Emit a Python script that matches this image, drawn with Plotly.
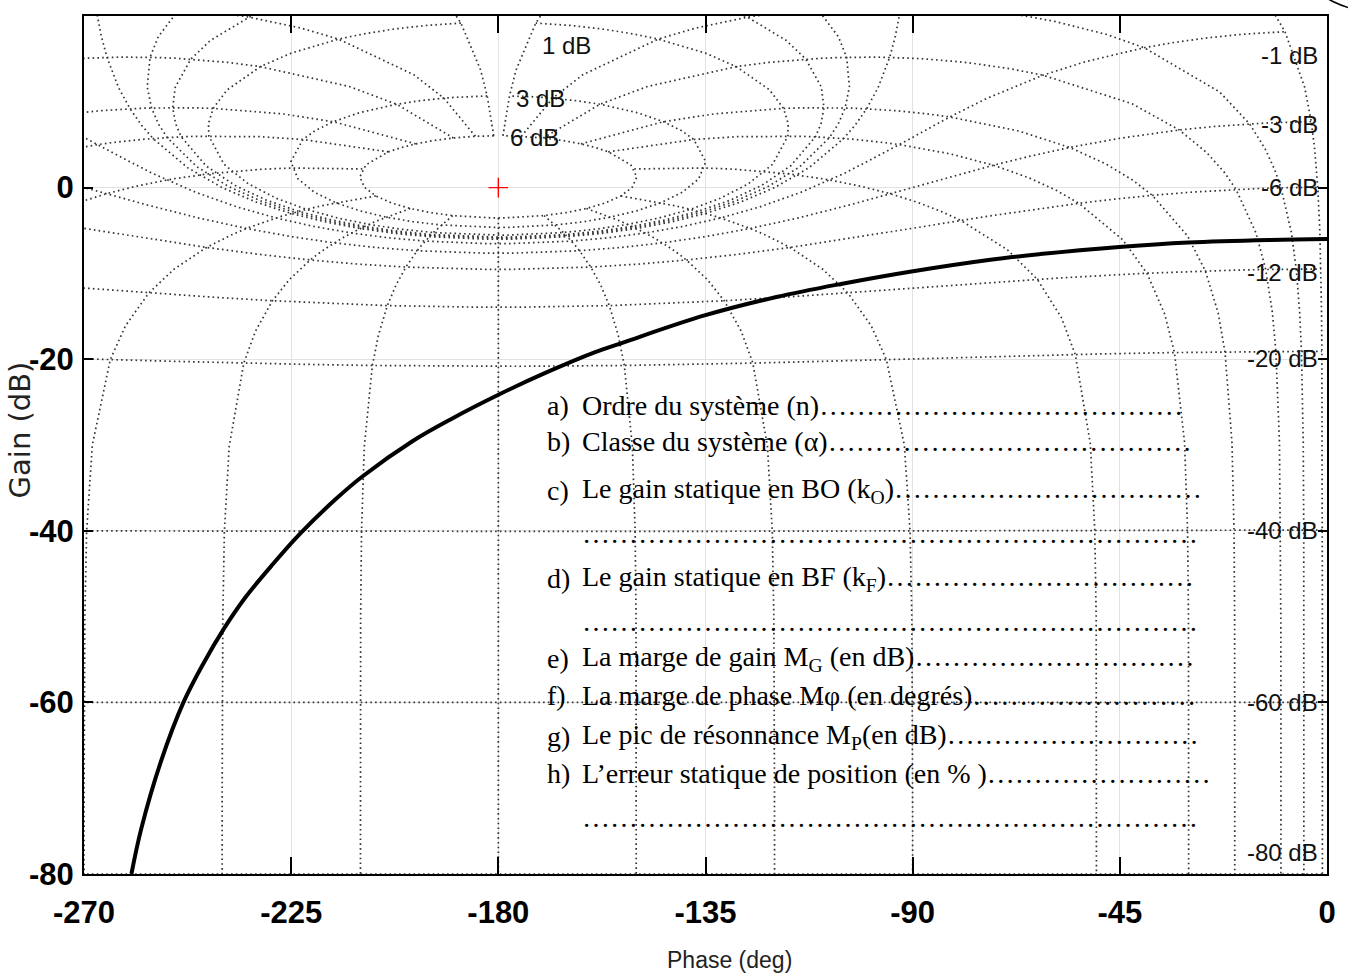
import numpy as np
import plotly.graph_objects as go

# ---------------------------------------------------------------------------
# Open-loop locus (phase in degrees, gain in dB)
# ---------------------------------------------------------------------------
phase_deg = [-259.7, -257.6, -253.3, -248.4, -244.0, -239.6, -235.0, -229.0,
             -223.0, -215.3, -209.6, -198.5, -190.0, -180.2, -169.8, -159.1,
             -152.6, -135.2, -119.6, -105.3, -90.6, -73.1, -62.3, -45.8,
             -30.1, -12.2, 0.0]
gain_db = [-80.0, -74.8, -66.9, -60.0, -55.4, -51.4, -47.8, -43.9,
           -40.3, -36.3, -33.7, -29.5, -26.9, -24.2, -21.6, -19.2,
           -18.0, -14.9, -12.75, -11.2, -9.8, -8.4, -7.75, -6.95,
           -6.4, -6.1, -6.0]

# Axis ticks
x_ticks = [-270, -225, -180, -135, -90, -45, 0]
y_ticks = [-80, -60, -40, -20, 0, 20]

# Nichols grid: closed-loop phase contours and closed-loop gain contours
iso_phase_deg = [1, 5, 10, 20, 30, 50, 90, 120, 150, 180]
iso_phase_gain_pts = [6, 3, 2, 1, .75, .5, .4, .3, .25, .2, .15, .1, .05, 0,
                      -.05, -.1, -.15, -.2, -.25, -.3, -.4, -.5, -.75, -1, -2,
                      -3, -4, -5, -6, -9, -12, -16, -20, -30, -40, -50, -60,
                      -70, -80, -90, -100, -110, -120]
iso_gain_db = [6, 3, 1, .5, .25, 0, -1, -3, -6, -12, -20, -40, -60, -80,
               -100, -120]
iso_gain_phase_pts = [1, 2, 3, 4, 5, 7.5, 10, 15, 20, 25, 30, 45, 60, 75, 90,
                      105, 120, 135, 150, 175, 180]

# Contour labels
top_labels = ["1 dB", "3 dB", "6 dB"]
top_label_phase = [-170.9, -176.7, -177.8]
top_label_gain = [16.6, 10.4, 5.8]
right_labels = ["-1 dB", "-3 dB", "-6 dB", "-12 dB", "-20 dB", "-40 dB",
                "-60 dB", "-80 dB"]
right_label_gain = [15.4, 7.3, 0.0, -9.9, -19.9, -40.0, -60.0, -77.5]

# Questions written over the chart
item_tags = ["a)", "b)", "c)", "", "d)", "", "e)", "f)", "g)", "h)", ""]
item_texts = [
    "Ordre du système (n)",
    "Classe du système (α)",
    "Le gain statique en BO (k<sub>O</sub>)",
    "",
    "Le gain statique en BF (k<sub>F</sub>)",
    "",
    "La marge de gain M<sub>G</sub> (en dB)",
    "La marge de phase Mφ (en degrés)",
    "Le pic de résonnance M<sub>P</sub>(en dB)",
    "L’erreur statique de position (en % )",
    "",
]
item_dots = [13, 13, 11, 22, 11, 22, 10, 8, 9, 8, 22]
item_rows = [405, 441, 490, 533, 578, 621, 658, 695, 736, 773, 817]


def nichols_points(z):
    """Open-loop gain/phase for closed-loop values z (G = T / (1 - T))."""
    h = z / (1 - z)
    g = 20 * np.log10(np.abs(h))
    p = np.mod(np.degrees(np.angle(h)), 360) - 360
    return p, g


grid_x, grid_y = [], []

# Isophase contours (both signs of closed-loop phase)
mag = 10 ** (np.array(iso_phase_gain_pts) / 20)
for ph in iso_phase_deg:
    signs = [1] if ph == 180 else [1, -1]
    for s in signs:
        z = mag * np.exp(1j * s * np.radians(ph))
        p, g = nichols_points(z)
        grid_x += list(p) + [None]
        grid_y += list(g) + [None]

# Isogain contours
theta = np.array(iso_gain_phase_pts + [360 - v for v in iso_gain_phase_pts[:-1]][::-1])
for gdb in iso_gain_db:
    z = 10 ** (gdb / 20) * np.exp(1j * np.radians(theta))
    p, g = nichols_points(z)
    grid_x += list(p) + [None]
    grid_y += list(g) + [None]

SANS = "Liberation Sans, Arial, sans-serif"
SERIF = "Liberation Serif, Times New Roman, serif"

fig = go.Figure()

fig.add_trace(go.Scatter(
    x=grid_x, y=grid_y, mode="lines",
    line=dict(color="#333333", width=1.7, dash="1.6px,3.2px"),
    hoverinfo="skip", showlegend=False,
))

fig.add_trace(go.Scatter(
    x=phase_deg, y=gain_db, mode="lines",
    line=dict(color="black", width=4, shape="spline", smoothing=1.0),
    hoverinfo="skip", showlegend=False,
))

fig.add_trace(go.Scatter(
    x=[-180], y=[0], mode="markers",
    marker=dict(symbol="cross-thin", size=14, line=dict(color="red", width=1.4)),
    hoverinfo="skip", showlegend=False,
))

# Plot box in pixels
L, R, T, B = 84, 1335, 16, 874
W_FIG, H_FIG = 1348, 977


def xp(px):
    return (px - L) / (R - L)


def yp(py):
    return (B - py) / (B - T)


ann = []
for txt, ph, gn in zip(top_labels, top_label_phase, top_label_gain):
    ann.append(dict(x=ph, y=gn, xref="x", yref="y", text=txt, showarrow=False,
                    xanchor="left", yanchor="middle",
                    font=dict(family=SANS, size=24, color="#111")))
for txt, gn in zip(right_labels, right_label_gain):
    ann.append(dict(x=-1.5, y=gn, xref="x", yref="y", text=txt, showarrow=False,
                    xanchor="right", yanchor="middle",
                    font=dict(family=SANS, size=24, color="#111")))

for tag, txt, nd, row in zip(item_tags, item_texts, item_dots, item_rows):
    if tag:
        ann.append(dict(x=xp(548), y=yp(row), xref="paper", yref="paper",
                        text=tag, showarrow=False, xanchor="left", yanchor="middle",
                        font=dict(family=SERIF, size=28, color="black")))
    ann.append(dict(x=xp(583), y=yp(row), xref="paper", yref="paper",
                    text=txt + "…" * nd, showarrow=False, xanchor="left",
                    yanchor="middle",
                    font=dict(family=SERIF, size=28, color="black")))

# Axis titles
ann.append(dict(x=xp(734), y=yp(960), xref="paper", yref="paper",
                text="Phase (deg)", showarrow=False, xanchor="center",
                yanchor="middle", font=dict(family=SANS, size=23, color="#222")))
ann.append(dict(x=xp(20), y=yp(430), xref="paper", yref="paper",
                text="Gain (dB)", showarrow=False, textangle=-90,
                xanchor="center", yanchor="middle",
                font=dict(family="DejaVu Sans, Liberation Sans, sans-serif",
                          size=29, color="#222")))

fig.update_layout(
    width=W_FIG, height=H_FIG,
    margin=dict(l=L, r=W_FIG - R, t=T, b=H_FIG - B),
    paper_bgcolor="white", plot_bgcolor="white",
    annotations=ann,
    shapes=[dict(type="circle", xref="paper", yref="paper",
                 x0=xp(1316), x1=xp(1490), y0=yp(14), y1=yp(-70),
                 line=dict(color="black", width=1.6), layer="above")],
    xaxis=dict(
        range=[-270, 0], tickmode="array", tickvals=x_ticks,
        ticktext=[str(v) for v in x_ticks],
        ticks="inside", ticklen=17, tickwidth=1.5, tickcolor="black",
        showline=True, linecolor="black", linewidth=2, mirror="ticks",
        showgrid=True, gridcolor="#e2e2e2", gridwidth=1.2, zeroline=False,
        tickfont=dict(family=SANS, size=31, color="black", weight="bold"),
        ticklabelstandoff=10,
    ),
    yaxis=dict(
        range=[-80, 20], tickmode="array", tickvals=y_ticks,
        ticktext=[str(v) for v in y_ticks],
        ticks="inside", ticklen=9, tickwidth=1.5, tickcolor="black",
        showline=True, linecolor="black", linewidth=2, mirror="ticks",
        showgrid=True, gridcolor="#e2e2e2", gridwidth=1.2, zeroline=False,
        tickfont=dict(family=SANS, size=31, color="black", weight="bold"),
        ticklabelstandoff=2,
    ),
)

fig.write_html("out.html")
